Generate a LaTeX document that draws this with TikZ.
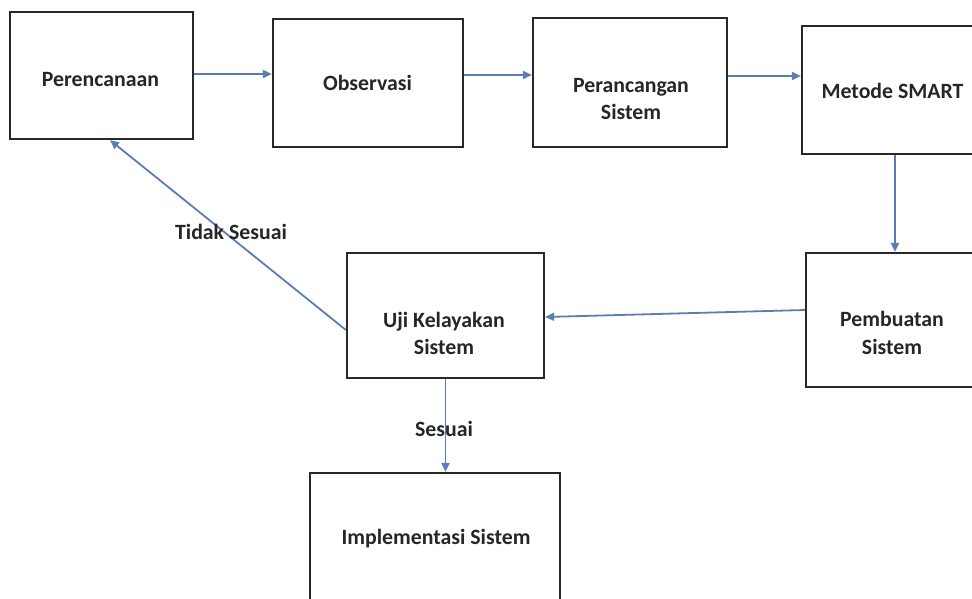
\documentclass[tikz,border=0pt]{standalone}
\usepackage{fontspec}
\setmainfont{Carlito}
\usetikzlibrary{arrows.meta,calc}
\definecolor{arrblue}{RGB}{92,124,182}
\definecolor{boxline}{RGB}{40,40,40}
\begin{document}
\begin{tikzpicture}[x=1pt,y=-1pt,
  box/.style={draw=boxline,line width=2.2pt,rectangle,inner sep=0pt},
  txt/.style={font=\fontsize{21.8}{27.5}\selectfont\bfseries,text=black!85,align=center,inner sep=0pt},
  arr/.style={draw=arrblue,line width=1.8pt,-{Triangle[length=9pt,width=8pt]}}]
\useasboundingbox (0,0) rectangle (972,598);
\clip (0,0) rectangle (972,598);
% boxes
\node[box,minimum width=183pt,minimum height=127pt] (P) at (101.5,75.5) {};
\node[box,minimum width=190pt,minimum height=128pt] (O) at (368,83) {};
\node[box,minimum width=194pt,minimum height=129pt] (R) at (630,82.5) {};
\node[box,minimum width=186pt,minimum height=128pt] (M) at (895,90) {};
\node[box,minimum width=178pt,minimum height=134pt] (B) at (895,320) {};
\node[box,minimum width=197pt,minimum height=125pt] (U) at (445.5,315.5) {};
\node[box,minimum width=250pt,minimum height=137pt] (I) at (435,541.5) {};
% texts
\node[txt] (tP) at (100.5,80) {Perencanaan};
\node[txt] (tO) at (367.5,83) {Observasi};
\node[txt] (tR) at (631,99) {Perancangan\\Sistem};
\node[txt] (tM) at (892.5,91) {Metode SMART};
\node[txt] (tB) at (892,333) {Pembuatan\\Sistem};
\node[txt] (tU) at (444,333.5) {Uji Kelayakan\\Sistem};
\node[txt] (tI) at (436,539) {Implementasi Sistem};
% arrows
\draw[arr] ([yshift=1.5pt]P.east) -- ([yshift=1.5pt]P.east -| O.west);
\draw[arr] ([yshift=8pt]O.east) -- ([yshift=8pt]O.east -| R.west);
\draw[arr] ([yshift=6.5pt]R.east) -- ([yshift=6.5pt]R.east -| M.west);
\draw[arr] (M.south) -- (M.south |- B.north);
\draw[arr] ([yshift=10pt]B.west) -- ([yshift=-1.5pt]U.east);
\draw[arr] (U.south) -- (U.south |- I.north);
\draw[arr] ([yshift=-14.5pt]U.west) -- ([xshift=8.5pt]P.south);
% labels
\node[txt] (lT) at (231,232) {Tidak Sesuai};
\node[txt] (lS) at (444,429) {Sesuai};
\end{tikzpicture}
\end{document}
